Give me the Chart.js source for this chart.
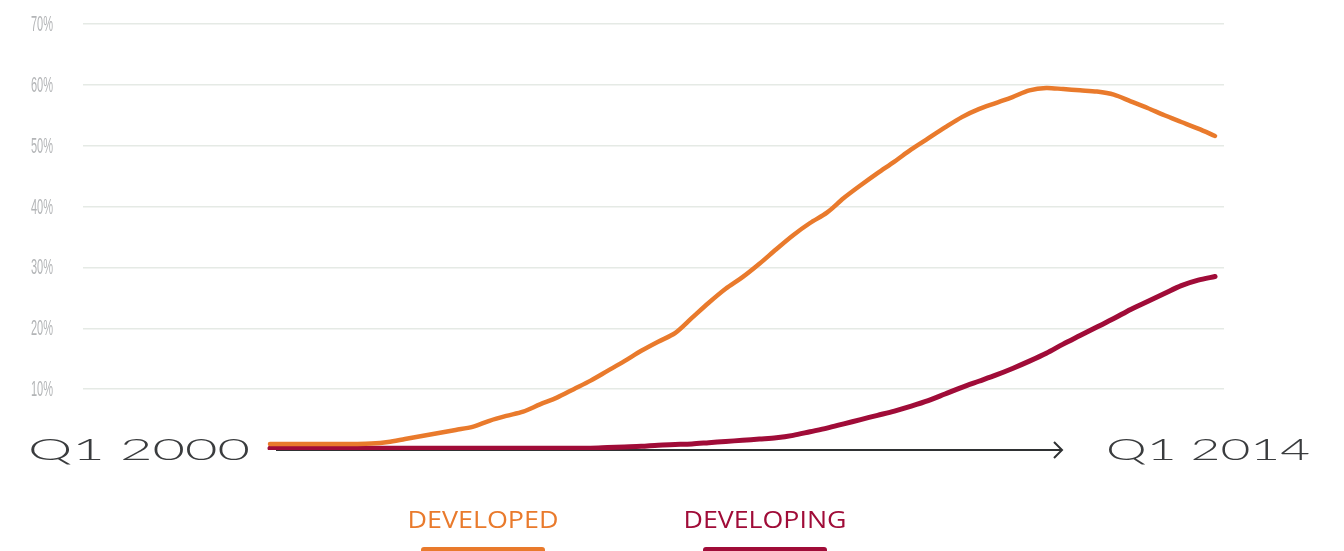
<!DOCTYPE html>
<html lang="en">
<head>
    <meta charset="UTF-8">
    <title>Developed vs Developing</title>
    <script src="https://cdn.jsdelivr.net/npm/chart.js"></script>
    <style>
        body { margin: 0; background: #fff; }
        canvas { display: block; }
    </style>
</head>
<body>
    <canvas id="shareChart" width="1344" height="551"></canvas>

    <script>
        // Quarters from Q1 2000 to Q1 2014
        const quarters = [];
        for (let yr = 2000; yr <= 2014; yr++) {
            for (let q = 1; q <= 4; q++) {
                if (yr === 2014 && q > 1) break;
                quarters.push('Q' + q + ' ' + yr);
            }
        }

        const seriesNames = ['DEVELOPED', 'DEVELOPING'];
        const seriesColors = ['#e97a2c', '#a00c38'];

        // share in percent, one value per quarter
        const developed = [
            1.0, 1.0, 1.0, 1.0, 1.0, 1.0, 1.05, 1.3, 1.8, 2.3,
            2.8, 3.3, 3.8, 4.8, 5.6, 6.3, 7.5, 8.6, 10.0, 11.4,
            13.0, 14.6, 16.3, 17.8, 19.2, 21.7, 24.2, 26.5, 28.4, 30.6,
            33.0, 35.3, 37.3, 39.0, 41.4, 43.5, 45.5, 47.4, 49.4, 51.2,
            53.0, 54.7, 56.0, 57.0, 58.0, 59.1, 59.5, 59.3, 59.1, 58.9,
            58.4, 57.3, 56.2, 55.0, 53.9, 52.8, 51.6
        ];
        const developing = [
            0.3, 0.3, 0.3, 0.3, 0.3, 0.3, 0.3, 0.3, 0.3, 0.3,
            0.3, 0.3, 0.3, 0.3, 0.3, 0.3, 0.3, 0.3, 0.3, 0.3,
            0.4, 0.5, 0.6, 0.8, 0.9, 1.0, 1.2, 1.4, 1.6, 1.8,
            2.0, 2.4, 3.0, 3.6, 4.3, 5.0, 5.7, 6.4, 7.2, 8.1,
            9.2, 10.3, 11.3, 12.3, 13.4, 14.6, 15.9, 17.4, 18.8, 20.2,
            21.6, 23.1, 24.4, 25.7, 27.0, 27.9, 28.5
        ];

        const yTicks = [10, 20, 30, 40, 50, 60, 70];

        // draw text squeezed or stretched to a given width
        function fitText(ctx, text, x, y, width, align) {
            const w = ctx.measureText(text).width;
            const sx = width / w;
            ctx.save();
            ctx.translate(x, y);
            ctx.scale(sx, 1);
            ctx.textAlign = 'left';
            let ox = 0;
            if (align === 'right') ox = -w;
            if (align === 'center') ox = -w / 2;
            ctx.fillText(text, ox, 0);
            ctx.restore();
        }

        const decor = {
            id: 'decor',
            beforeDatasetsDraw(chart) {
                const { ctx, scales: { x, y } } = chart;
                const y0 = y.getPixelForValue(0);
                const xs = x.getPixelForValue(0) + 6;
                const xe = 1062;

                // time arrow along the zero line
                ctx.save();
                ctx.strokeStyle = '#2f3133';
                ctx.lineWidth = 2;
                ctx.beginPath();
                ctx.moveTo(xs, y0);
                ctx.lineTo(xe, y0);
                ctx.moveTo(xe - 8, y0 - 8);
                ctx.lineTo(xe, y0);
                ctx.lineTo(xe - 8, y0 + 8);
                ctx.stroke();

                // first / last quarter labels
                ctx.fillStyle = '#3a3c3e';
                ctx.textBaseline = 'middle';
                ctx.font = '300 30px Lato, "Liberation Sans", sans-serif';
                fitText(ctx, quarters[0], 250, y0, 222, 'right');
                fitText(ctx, quarters[quarters.length - 1], 1106, y0, 204, 'left');

                // y tick labels in a narrow face
                ctx.fillStyle = '#b3b5b7';
                ctx.font = '22px "Liberation Sans", sans-serif';
                yTicks.forEach(v => {
                    fitText(ctx, v + '%', 53, y.getPixelForValue(v) + 1, 22, 'right');
                });
                ctx.restore();
            },
            afterDraw(chart) {
                const { ctx } = chart;
                const centers = [483, 765];
                ctx.save();
                ctx.textBaseline = 'middle';
                ctx.font = '23px "Open Sans", sans-serif';
                chart.data.datasets.forEach((ds, i) => {
                    ctx.fillStyle = ds.borderColor;
                    fitText(ctx, ds.label, centers[i], 521, i === 0 ? 151 : 163, 'center');
                    ctx.beginPath();
                    ctx.roundRect(centers[i] - 62, 547, 124, 8, 3);
                    ctx.fill();
                });
                ctx.restore();
            }
        };

        const ctx = document.getElementById('shareChart').getContext('2d');
        new Chart(ctx, {
            type: 'line',
            data: {
                labels: quarters,
                datasets: [
                    {
                        label: seriesNames[0],
                        data: developed.map((v, i) => ({ x: i, y: v })),
                        borderColor: seriesColors[0],
                        borderWidth: 4.5,
                        pointRadius: 0,
                        tension: 0.3,
                        borderCapStyle: 'round'
                    },
                    {
                        label: seriesNames[1],
                        data: developing.map((v, i) => ({ x: i, y: v })),
                        borderColor: seriesColors[1],
                        borderWidth: 5,
                        pointRadius: 0,
                        tension: 0.3,
                        borderCapStyle: 'round'
                    }
                ]
            },
            options: {
                responsive: false,
                animation: false,
                layout: { padding: { left: 83, right: 120, top: 24, bottom: 101 } },
                plugins: {
                    legend: { display: false },
                    tooltip: { enabled: false }
                },
                scales: {
                    x: {
                        type: 'linear',
                        display: false,
                        min: -11.08,
                        max: 56.53
                    },
                    y: {
                        min: 0,
                        max: 70,
                        ticks: { display: false, stepSize: 10 },
                        border: { display: false },
                        grid: {
                            drawTicks: false,
                            lineWidth: 1.5,
                            color: c => c.tick.value === 0 ? 'rgba(0,0,0,0)' : '#e5eae5'
                        }
                    }
                }
            },
            plugins: [decor]
        });
    </script>
</body>
</html>
